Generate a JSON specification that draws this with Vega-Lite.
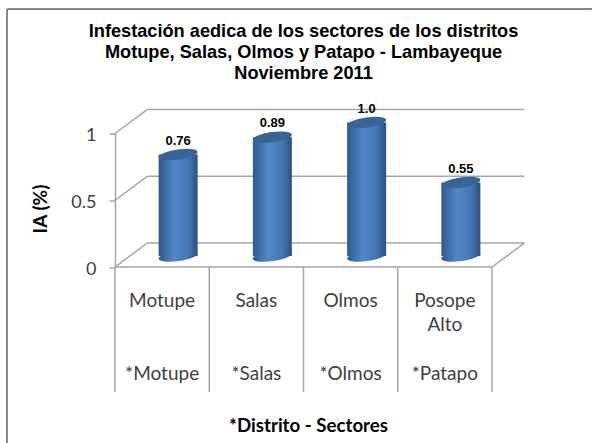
{
"$schema":"https://vega.github.io/schema/vega-lite/v6.json",
"width":377,"height":133.5,
"autosize":{"type":"none"},
"padding":{"left":115,"top":133.5,"right":100,"bottom":176},
"background":"white",
"config":{"view":{"stroke":null}},
"title":{"text":["Infestación aedica de los sectores de los distritos","Motupe, Salas, Olmos y Patapo - Lambayeque","Noviembre 2011"],"font":"Liberation Sans","fontWeight":"bold","fontSize":18.2,"lineHeight":21,"color":"#000000","anchor":"middle","frame":"group","offset":-75},
"datasets":{
"marco":[
{"x":0.345,"x2":4.345,"y":0.18,"y2":0.18},
{"x":0.345,"x2":4.345,"y":0.68,"y2":0.68},
{"x":0.345,"x2":4.345,"y":1.18,"y2":1.18},
{"x":0,"x2":0.345,"y":0,"y2":0.18},
{"x":0,"x2":0.345,"y":0.5,"y2":0.68},
{"x":0,"x2":0.345,"y":1,"y2":1.18},
{"x":4,"x2":4.345,"y":0,"y2":0.18},
{"x":0,"x2":4,"y":0,"y2":0},
{"x":0,"x2":0,"y":0,"y2":-0.936},
{"x":1,"x2":1,"y":0,"y2":-0.936},
{"x":2,"x2":2,"y":0,"y2":-0.936},
{"x":3,"x2":3,"y":0,"y2":-0.936},
{"x":4,"x2":4,"y":0,"y2":-0.936}
],
"borde":[
{"x":-1.146,"x2":5.06,"y":1.933,"y2":1.933},
{"x":-1.146,"x2":-1.146,"y":1.933,"y2":-1.32}
],
"sectores":[
{"sector":"Motupe","distrito":"*Motupe","ia":0.76,"texto":"0.76"},
{"sector":"Salas","distrito":"*Salas","ia":0.89,"texto":"0.89"},
{"sector":"Olmos","distrito":"*Olmos","ia":1.0,"texto":"1.0"},
{"sector":"Posope|Alto","distrito":"*Patapo","ia":0.55,"texto":"0.55"}
]
},
"layer":[
{"data":{"name":"borde"},
 "mark":{"type":"rule","color":"#868686","strokeWidth":2},
 "encoding":{"x":{"field":"x","type":"quantitative","scale":{"domain":[0,4],"nice":false,"zero":false},"axis":null},"x2":{"field":"x2"},
 "y":{"field":"y","type":"quantitative","scale":{"domain":[0,1],"nice":false},"axis":{"title":"IA (%)","titleFont":"Lato","titleFontWeight":"bold","titleFontSize":19,"titleColor":"#000000","titleX":-65,"titleY":75,"values":[0,0.5,1],"format":"~g","labelFont":"Lato","labelFontSize":18,"labelColor":"#404040","labelPadding":13,"labelOffset":2,"tickSize":6,"tickColor":"#a6a6a6","tickWidth":1.5,"domainColor":"#a6a6a6","domainWidth":1.5,"grid":false}},"y2":{"field":"y2"}}},
{"data":{"name":"marco"},
 "mark":{"type":"rule","color":"#a6a6a6","strokeWidth":1.5},
 "encoding":{"x":{"field":"x","type":"quantitative","scale":{"domain":[0,4],"nice":false,"zero":false},"axis":null},"x2":{"field":"x2"},
 "y":{"field":"y","type":"quantitative"},"y2":{"field":"y2"}}},
{"data":{"name":"sectores"},
 "layer":[
 {"mark":{"type":"point","filled":true,"opacity":1,"size":1521,"xOffset":16,"yOffset":-11,"shape":"M -1 0.14 A 1 0.26 -8 1 1 1 -0.14 A 1 0.26 -8 1 1 -1 0.14 Z","color":{"gradient":"linear","x1":0,"x2":1,"y1":0,"y2":0,"stops":[{"offset":0,"color":"#2f5a8e"},{"offset":0.4,"color":"#5287c8"},{"offset":0.75,"color":"#4577b3"},{"offset":1,"color":"#2b5280"}]}},
  "encoding":{"y":{"datum":0,"type":"quantitative"}}},
 {"mark":{"type":"bar","xOffset":16,"x2Offset":16,"yOffset":-11,"y2Offset":-11,"color":{"gradient":"linear","x1":0,"x2":1,"y1":0,"y2":0,"stops":[{"offset":0,"color":"#2f5a8e"},{"offset":0.4,"color":"#5287c8"},{"offset":0.75,"color":"#4577b3"},{"offset":1,"color":"#2b5280"}]}},
  "encoding":{"y":{"field":"ia","type":"quantitative"}}},
 {"mark":{"type":"point","filled":true,"opacity":1,"size":1521,"xOffset":16,"yOffset":-11,"shape":"M -1 0.14 A 1 0.26 -8 1 1 1 -0.14 A 1 0.26 -8 1 1 -1 0.14 Z","color":"#3a6496"},
  "encoding":{"y":{"field":"ia","type":"quantitative"}}},
 {"mark":{"type":"text","font":"Liberation Sans","fontWeight":"bold","fontSize":13,"color":"#000000","xOffset":16,"yOffset":-25},
  "encoding":{"y":{"field":"ia","type":"quantitative"},"text":{"field":"texto"}}},
 {"mark":{"type":"text","font":"Lato","fontSize":19,"color":"#404040","yOffset":107},
  "encoding":{"y":{"datum":0,"type":"quantitative"},"text":{"field":"distrito"}}}
 ],
 "encoding":{"x":{"field":"sector","type":"nominal","sort":null,
   "scale":{"paddingInner":0.586,"paddingOuter":0.293},
   "axis":{"title":"*Distrito - Sectores","titleFont":"Lato","titleFontWeight":"bold","titleFontSize":18.7,"titleColor":"#000000","titleX":193,"titleY":149,"labelAngle":0,"labelExpr":"split(datum.label,'|')","labelFont":"Lato","labelFontSize":19,"labelColor":"#404040","labelLineHeight":24.7,"labelPadding":24,"labelBaseline":"top","labelOverlap":false,"labelBound":false,"labelFlush":false,"tickSize":0,"ticks":false,"domain":false,"grid":false}}}
}
],
"resolve":{"scale":{"x":"independent"}}
}
